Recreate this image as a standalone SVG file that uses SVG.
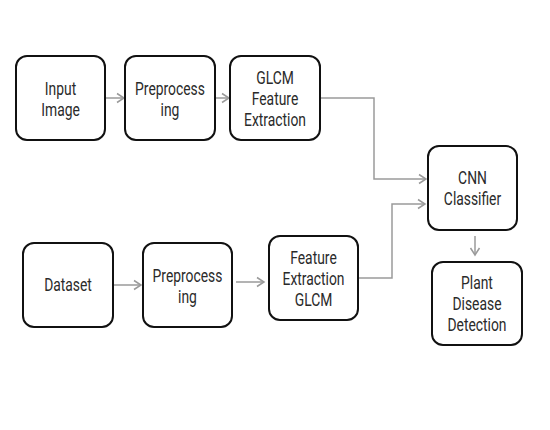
<svg xmlns="http://www.w3.org/2000/svg" width="550" height="430" viewBox="0 0 550 430">
<defs>
<marker id="arr" markerUnits="userSpaceOnUse" markerWidth="12" markerHeight="12" refX="9" refY="6" orient="auto">
<path d="M2,1.5 L9,6 L2,10.5" fill="none" stroke="#9a9a9a" stroke-width="1.5"/>
</marker>
<style>
.box{fill:#fff;stroke:#111;stroke-width:2}
.t{font-family:Roboto,"Liberation Sans",sans-serif;font-size:18px;fill:#2a2a2a;text-anchor:middle}
.c{fill:none;stroke:#9a9a9a;stroke-width:1.5;marker-end:url(#arr)}
</style>
</defs>
<rect width="550" height="430" fill="#fff"/>
<g id="connectors">
<path class="c" d="M105,98 H124"/>
<path class="c" d="M215,98 H229"/>
<path class="c" d="M320,98 H374 V179 H426"/>
<path class="c" d="M358,278 H392 V204 H425"/>
<path class="c" d="M475,236 V255"/>
<path class="c" d="M113,285 H141"/>
<path class="c" d="M236,282 H264"/>
</g>
<g id="input-image">
<rect class="box" x="16" y="56" width="89" height="84" rx="11"/>
<text class="t" transform="translate(60.5 0) scale(0.77 1)"><tspan x="0" y="95">Input</tspan><tspan x="0" y="116">Image</tspan></text>
</g>
<g id="preprocessing-1">
<rect class="box" x="125" y="56" width="90" height="84" rx="11"/>
<text class="t" transform="translate(170 0) scale(0.77 1)"><tspan x="0" y="95">Preprocess</tspan><tspan x="0" y="116">ing</tspan></text>
</g>
<g id="glcm-feature-extraction">
<rect class="box" x="230" y="56" width="90" height="84" rx="11"/>
<text class="t" transform="translate(275 0) scale(0.77 1)"><tspan x="0" y="84">GLCM</tspan><tspan x="0" y="105">Feature</tspan><tspan x="0" y="126">Extraction</tspan></text>
</g>
<g id="cnn-classifier">
<rect class="box" x="428" y="146" width="89" height="84" rx="11"/>
<text class="t" transform="translate(472.5 0) scale(0.77 1)"><tspan x="0" y="184">CNN</tspan><tspan x="0" y="205">Classifier</tspan></text>
</g>
<g id="dataset">
<rect class="box" x="23" y="243" width="90" height="84" rx="11"/>
<text class="t" transform="translate(68 0) scale(0.77 1)"><tspan x="0" y="291">Dataset</tspan></text>
</g>
<g id="preprocessing-2">
<rect class="box" x="143" y="243" width="89" height="84" rx="11"/>
<text class="t" transform="translate(187.5 0) scale(0.77 1)"><tspan x="0" y="282">Preprocess</tspan><tspan x="0" y="303">ing</tspan></text>
</g>
<g id="feature-extraction-glcm">
<rect class="box" x="269" y="236" width="89" height="84" rx="11"/>
<text class="t" transform="translate(313.5 0) scale(0.77 1)"><tspan x="0" y="264">Feature</tspan><tspan x="0" y="285">Extraction</tspan><tspan x="0" y="306">GLCM</tspan></text>
</g>
<g id="plant-disease-detection">
<rect class="box" x="432" y="262" width="90" height="83" rx="11"/>
<text class="t" transform="translate(477 0) scale(0.77 1)"><tspan x="0" y="289">Plant</tspan><tspan x="0" y="310">Disease</tspan><tspan x="0" y="331">Detection</tspan></text>
</g>
</svg>
